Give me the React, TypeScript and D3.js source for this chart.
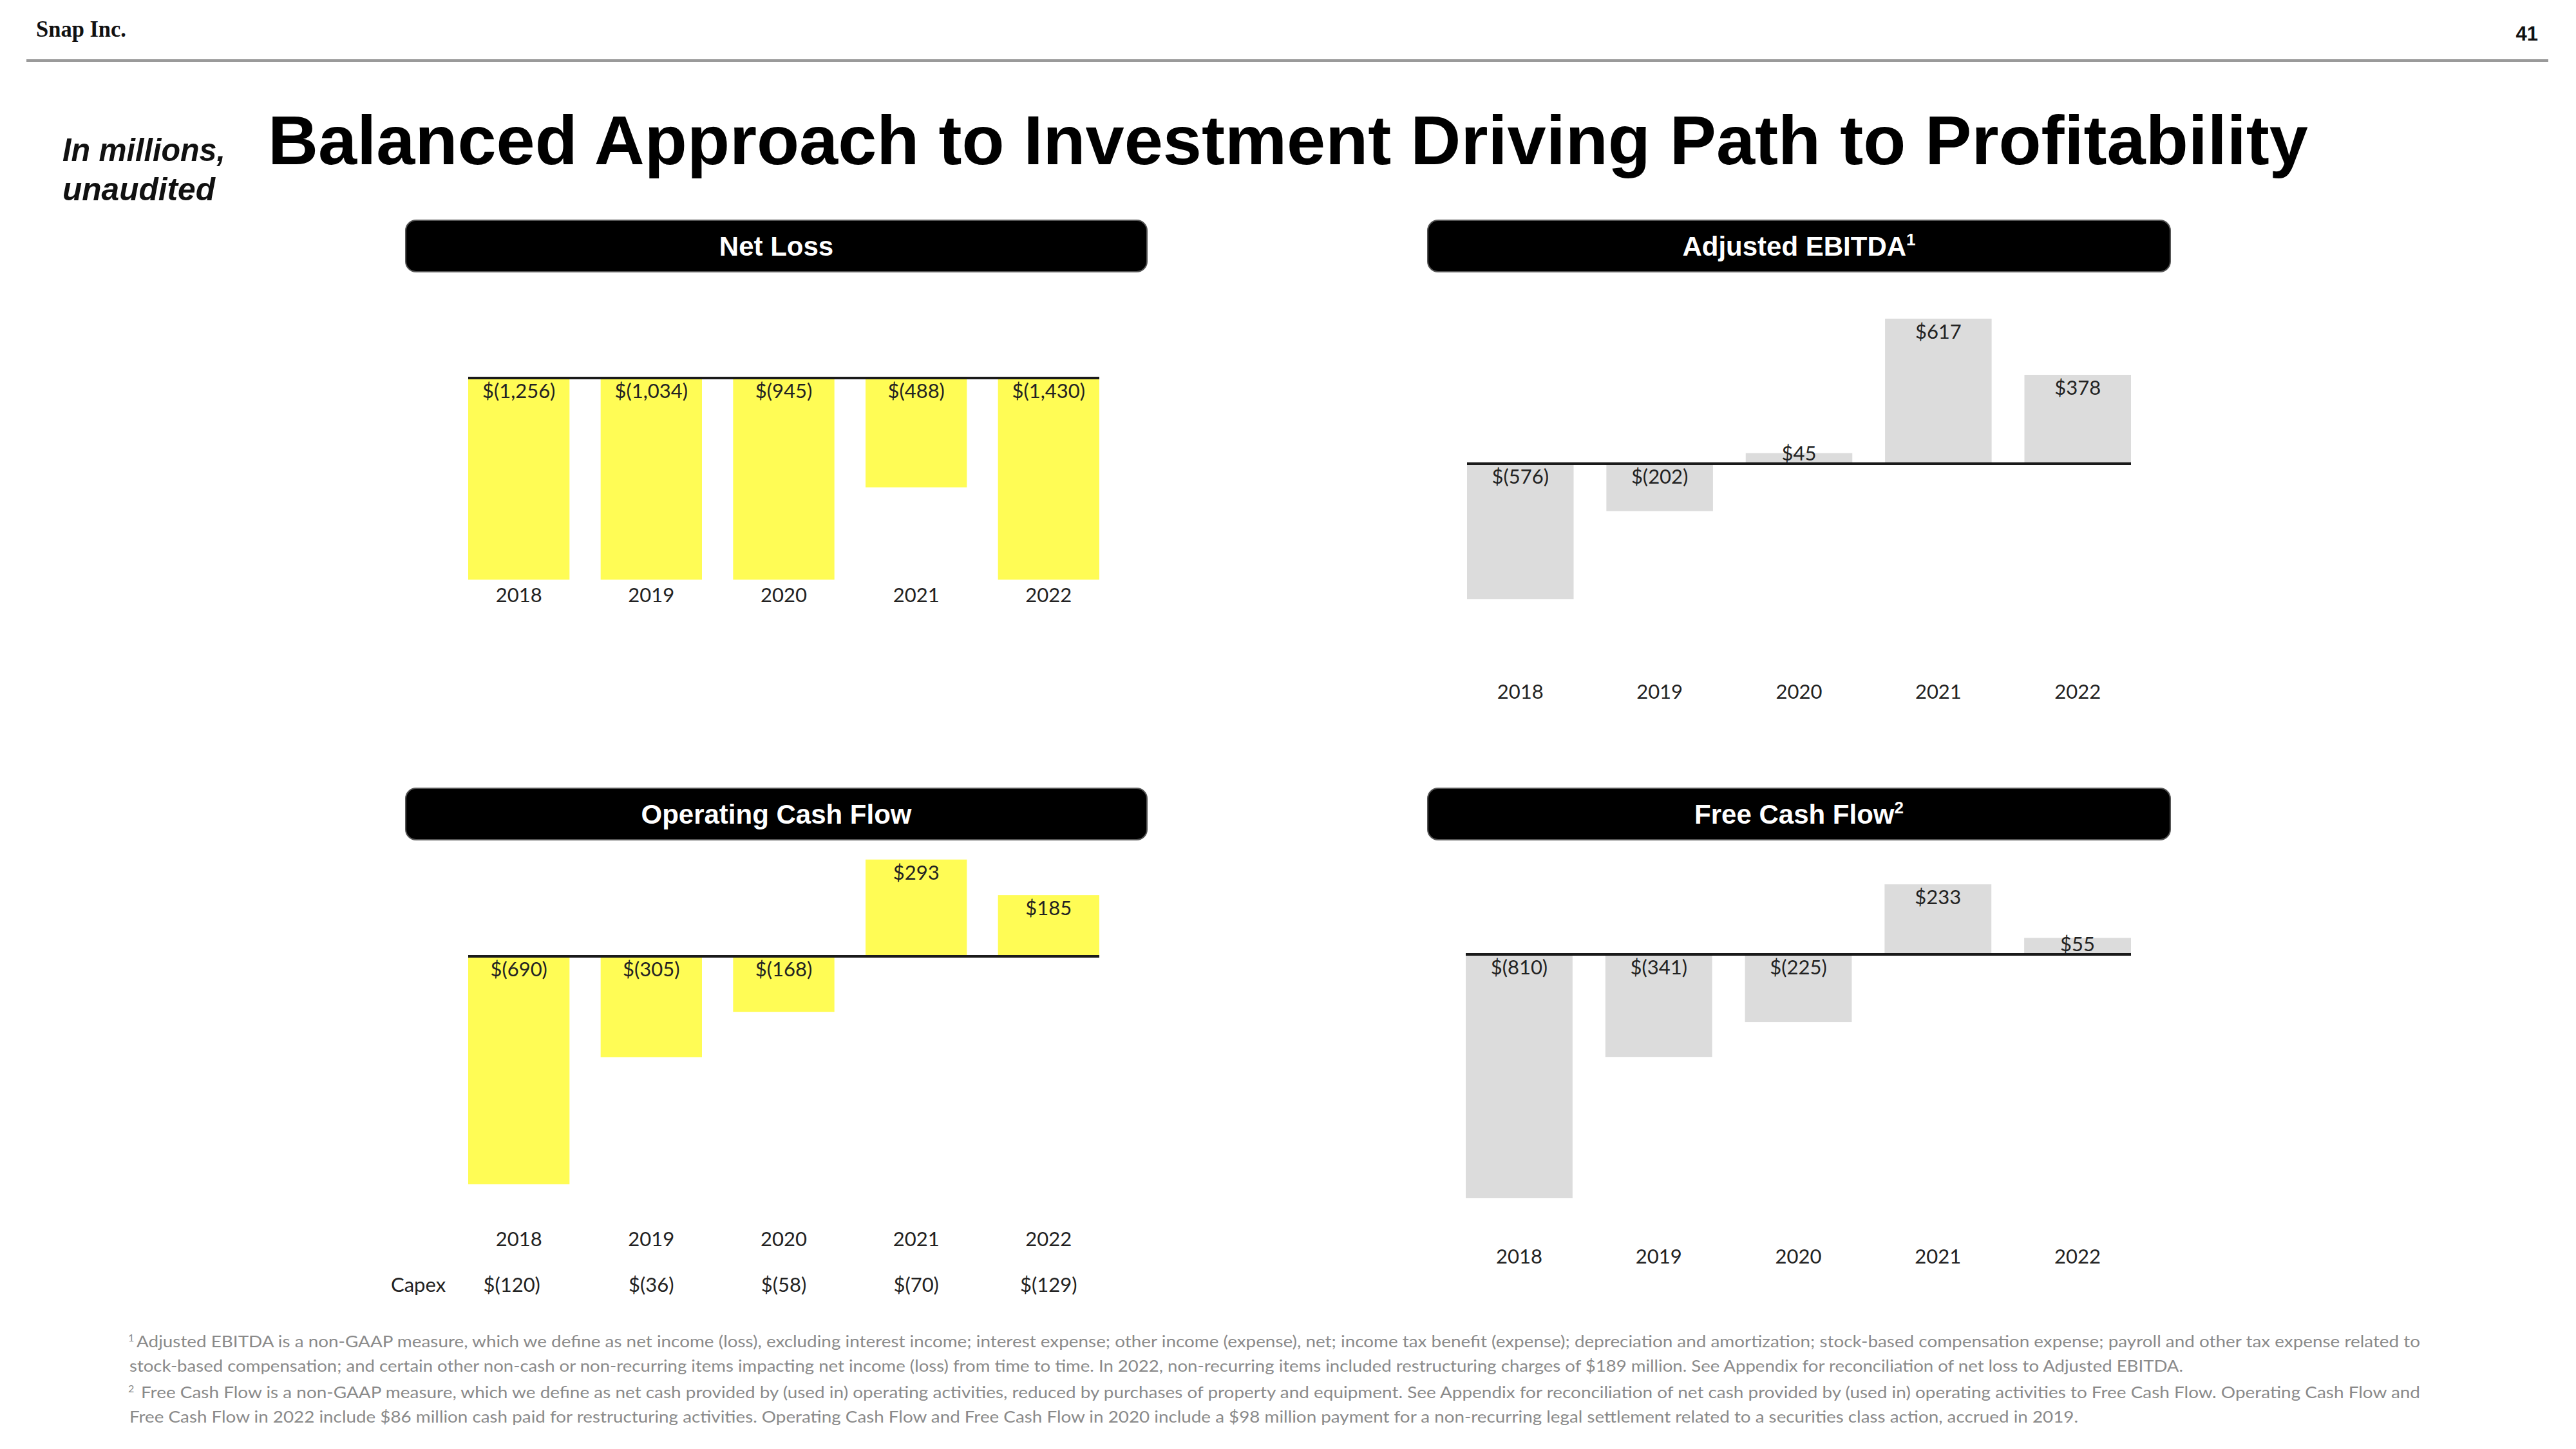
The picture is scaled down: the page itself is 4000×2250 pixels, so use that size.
import React from "react";
import * as d3 from "d3";

const YEARS = ["2018", "2019", "2020", "2021", "2022"];
const NET_LOSS = [-1256, -1034, -945, -488, -1430];
const ADJ_EBITDA = [-576, -202, 45, 617, 378];
const OCF = [-690, -305, -168, 293, 185];
const FCF = [-810, -341, -225, 233, 55];
const CAPEX = [-120, -36, -58, -70, -129];

const TITLE = "Balanced Approach to Investment Driving Path to Profitability";
const FOOTNOTES = [
  { sup: "1", text: "Adjusted EBITDA is a non-GAAP measure, which we define as net income (loss), excluding interest income; interest expense; other income (expense), net; income tax benefit (expense); depreciation and amortization; stock-based compensation expense; payroll and other tax expense related to" },
  { sup: "", text: "stock-based compensation; and certain other non-cash or non-recurring items impacting net income (loss) from time to time. In 2022, non-recurring items included restructuring charges of $189 million. See Appendix for reconciliation of net loss to Adjusted EBITDA." },
  { sup: "2", text: "Free Cash Flow is a non-GAAP measure, which we define as net cash provided by (used in) operating activities, reduced by purchases of property and equipment. See Appendix for reconciliation of net cash provided by (used in) operating activities to Free Cash Flow. Operating Cash Flow and" },
  { sup: "", text: "Free Cash Flow in 2022 include $86 million cash paid for restructuring activities. Operating Cash Flow and Free Cash Flow in 2020 include a $98 million payment for a non-recurring legal settlement related to a securities class action, accrued in 2019." },
];

const YELLOW = "#FFFC55";
const GRAY = "#DCDCDC";
const SANS = "'Liberation Sans', Arial, sans-serif";
const LABEL_FONT = "Lato, 'Liberation Sans', sans-serif";

const fmt = d3.format(",");
const money = (v: number) => (v < 0 ? `$(${fmt(-v)})` : `$${fmt(v)}`);

type PanelCfg = {
  title: string;
  sup?: string;
  values: number[];
  color: string;
  box: { x: number; y: number; w: number; h: number };
  x0: number;
  x1: number;
  zero: number;
  domain: [number, number];
  range: [number, number];
  clamp?: boolean;
  yearY: number;
  capex?: number[];
  capexY?: number;
};

const PANELS: PanelCfg[] = [
  {
    title: "Net Loss", values: NET_LOSS, color: YELLOW,
    box: { x: 630, y: 342, w: 1151, h: 80 },
    x0: 727, x1: 1707, zero: 587, domain: [-900, 0], range: [900, 587], clamp: true, yearY: 935,
  },
  {
    title: "Adjusted EBITDA", sup: "1", values: ADJ_EBITDA, color: GRAY,
    box: { x: 2217, y: 342, w: 1153, h: 80 },
    x0: 2278, x1: 3309, zero: 720, domain: [-1000, 1000], range: [720 + 365, 720 - 365], yearY: 1085,
  },
  {
    title: "Operating Cash Flow", values: OCF, color: YELLOW,
    box: { x: 630, y: 1224, w: 1151, h: 80 },
    x0: 727, x1: 1707, zero: 1485, domain: [-1000, 1000], range: [1485 + 513, 1485 - 513], yearY: 1935,
    capex: CAPEX, capexY: 2006,
  },
  {
    title: "Free Cash Flow", sup: "2", values: FCF, color: GRAY,
    box: { x: 2217, y: 1224, w: 1153, h: 80 },
    x0: 2276, x1: 3309, zero: 1482, domain: [-1000, 1000], range: [1482 + 467, 1482 - 467], yearY: 1962,
  },
];

function Panel({ cfg }: { cfg: PanelCfg }) {
  const x = d3.scaleBand<string>().domain(YEARS).range([cfg.x0, cfg.x1]).paddingInner(0.235).paddingOuter(0);
  const y = d3.scaleLinear().domain(cfg.domain).range(cfg.range).clamp(!!cfg.clamp);
  const y0 = y(0);
  const bw = x.bandwidth();
  const cx = cfg.box.x + cfg.box.w / 2;
  return (
    <g>
      <rect x={cfg.box.x} y={cfg.box.y} width={cfg.box.w} height={cfg.box.h} rx={16} ry={16}
        fill="#000" stroke="#555" strokeWidth={2} />
      <text x={cx} y={cfg.box.y + cfg.box.h / 2 + 15} textAnchor="middle" fill="#fff"
        fontFamily={SANS} fontWeight={700} fontSize={42}>
        {cfg.title}
        {cfg.sup ? <tspan fontSize={26} dy={-16}>{cfg.sup}</tspan> : null}
      </text>
      {cfg.values.map((v, i) => {
        const yr = YEARS[i];
        const yv = y(v);
        const top = Math.min(yv, y0);
        const h = Math.abs(yv - y0);
        const lx = (x(yr) as number) + bw / 2;
        const ly = v < 0 ? y0 + 31 : Math.min(yv + 31, y0 - 5);
        return (
          <g key={yr}>
            <rect x={x(yr)} y={top} width={bw} height={h} fill={cfg.color} />
            <text x={lx} y={ly} textAnchor="middle" fontFamily={LABEL_FONT} fontSize={31} fill="#222">
              {money(v)}
            </text>
          </g>
        );
      })}
      <line x1={cfg.x0} x2={cfg.x1} y1={y0} y2={y0} stroke="#1a1a1a" strokeWidth={4} />
      {YEARS.map((yr) => (
        <text key={yr} x={(x(yr) as number) + bw / 2} y={cfg.yearY} textAnchor="middle"
          fontFamily={LABEL_FONT} fontSize={31} fill="#222">{yr}</text>
      ))}
      {cfg.capex ? (
        <g>
          <text x={607} y={cfg.capexY} fontFamily={LABEL_FONT} fontSize={31} fill="#222">Capex</text>
          {cfg.capex.map((v, i) => (
            <text key={i} x={(x(YEARS[i]) as number) + bw / 2 - (i === 0 ? 11 : 0)} y={cfg.capexY}
              textAnchor="middle" fontFamily={LABEL_FONT} fontSize={31} fill="#222">{money(v)}</text>
          ))}
        </g>
      ) : null}
    </g>
  );
}

const FOOT_LAYOUT = [
  { supX: 199, x: 212, end: 3758, y: 2092 },
  { supX: 0, x: 201, end: 3390, y: 2130 },
  { supX: 199, x: 219, end: 3758, y: 2171 },
  { supX: 0, x: 201, end: 3227, y: 2209 },
];

export default function App() {
  return (
    <svg width={4000} height={2250} viewBox="0 0 4000 2250"
      style={{ position: "absolute", left: 0, top: 0, display: "block", background: "#fff" }}>
      <rect x={0} y={0} width={4000} height={2250} fill="#fff" />
      <text x={56} y={57} fontFamily="'Liberation Serif', 'DejaVu Serif', serif" fontWeight={700}
        fontSize={36} textLength={140} lengthAdjust="spacingAndGlyphs" fill="#111">Snap Inc.</text>
      <text x={3941} y={63} textAnchor="end" fontFamily={SANS} fontWeight={700} fontSize={31} fill="#111">41</text>
      <line x1={41} x2={3957} y1={94} y2={94} stroke="#9a9a9a" strokeWidth={4} />
      <text x={97} y={250} fontFamily={SANS} fontWeight={700} fontStyle="italic" fontSize={50}
        textLength={253} lengthAdjust="spacingAndGlyphs" fill="#111">In millions,</text>
      <text x={97} y={311} fontFamily={SANS} fontWeight={700} fontStyle="italic" fontSize={50}
        textLength={237} lengthAdjust="spacingAndGlyphs" fill="#111">unaudited</text>
      <text x={416} y={255} fontFamily={SANS} fontWeight={700} fontSize={108}
        textLength={3168} lengthAdjust="spacingAndGlyphs" fill="#000">{TITLE}</text>
      {PANELS.map((p) => <Panel key={p.title} cfg={p} />)}
      {FOOTNOTES.map((f, i) => {
        const L = FOOT_LAYOUT[i];
        return (
          <g key={i}>
            {f.sup ? (
              <text x={L.supX} y={L.y - 9} fontFamily={LABEL_FONT} fontSize={16} fill="#888">{f.sup}</text>
            ) : null}
            <text x={L.x} y={L.y} fontFamily={LABEL_FONT} fontSize={25} fill="#8a8a8a"
              textLength={L.end - L.x} lengthAdjust="spacingAndGlyphs">{f.text}</text>
          </g>
        );
      })}
    </svg>
  );
}
